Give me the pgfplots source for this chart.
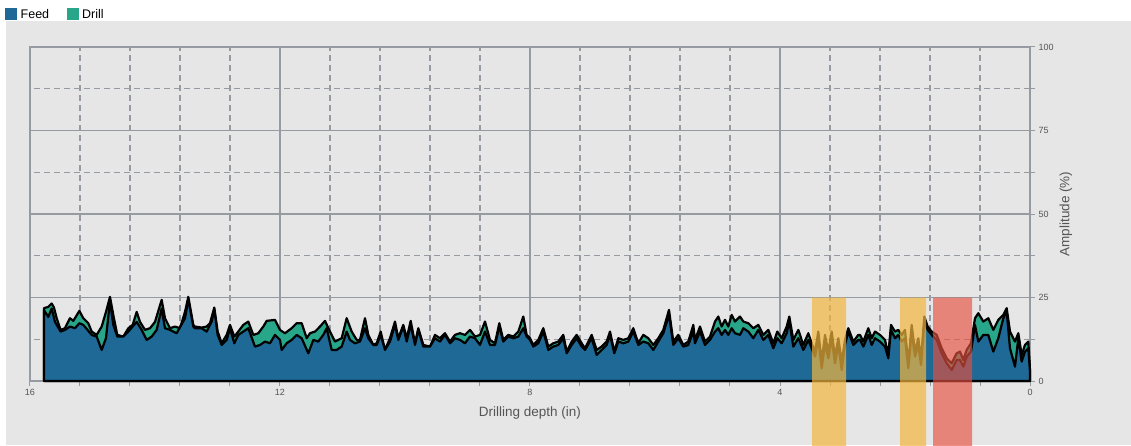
\documentclass[border=0pt]{standalone}
\usepackage{pgfplots}
\pgfplotsset{compat=1.18}
\usepackage{fontspec}
\setmainfont{Liberation Sans}
\definecolor{feed}{HTML}{1F6996}
\definecolor{drill}{HTML}{27A689}
\definecolor{panel}{HTML}{E6E6E6}
\definecolor{gridc}{HTML}{959BA1}
\definecolor{txt}{HTML}{555555}
\definecolor{bandy}{HTML}{F2B63F}
\definecolor{bandr}{HTML}{E8503F}
\begin{document}
\begin{tikzpicture}
\useasboundingbox (0pt,0pt) rectangle (1131pt,445pt);
\clip (0pt,0pt) rectangle (1131pt,445pt);
\fill[white] (0pt,0pt) rectangle (1131pt,445pt);
\fill[panel] (6pt,0pt) rectangle (1131pt,424pt);
\fill[feed] (5pt,425pt) rectangle (17pt,437pt);
\node[anchor=west, font=\fontsize{12.5}{14}\selectfont, inner sep=0pt] at (20.5pt,431pt) {Feed};
\fill[drill] (67pt,425pt) rectangle (79pt,437pt);
\node[anchor=west, font=\fontsize{12.5}{14}\selectfont, inner sep=0pt] at (82pt,431pt) {Drill};
\begin{axis}[at={(30pt,64pt)}, anchor=south west, scale only axis,
  width=1000pt, height=334pt, clip=false,
  x dir=reverse, xmin=0, xmax=16, ymin=0, ymax=100,
  xtick={0,4,8,12,16},
  minor xtick={0.8,1.6,2.4,3.2,4.8,5.6,6.4,7.2,8.8,9.6,10.4,11.2,12.8,13.6,14.4,15.2},
  ytick={0,25,50,75,100}, minor ytick={12.5,37.5,62.5,87.5},
  grid=both,
  major grid style={gridc, line width=1.3pt},
  minor grid style={gridc, line width=1.1pt, dash pattern=on 6pt off 4pt},
  axis line style={gridc, line width=1.6pt},
  tick style={gridc, line width=1pt},
  major tick length=5pt, minor tick length=5pt,
  tick align=outside,
  xtick pos=bottom, ytick pos=right, yticklabel pos=right,
  /pgf/number format/assume math mode=true,
  ticklabel style={font=\fontsize{9}{10}\selectfont, text=txt},
  xlabel={Drilling depth (in)}, ylabel={Amplitude (\%)},
  x label style={at={(axis description cs:0.5,-0.0958)}, anchor=center, font=\fontsize{13.5}{15}\selectfont, text=txt},
  y label style={at={(axis description cs:1.036,0.5)}, anchor=center, font=\fontsize{13.5}{15}\selectfont, text=txt},
]
\addplot[draw=black, line width=2.2pt, line join=round, fill=drill] table {
x y
15.776 0
15.776 21.8
15.707 22.2
15.653 23.2
15.616 22.0
15.573 18.8
15.510 15.3
15.440 15.8
15.360 18.8
15.307 18.0
15.210 21.0
15.147 18.8
15.067 17.3
15.013 14.8
14.933 13.8
14.853 16.3
14.784 20.7
14.720 25.2
14.667 19.8
14.603 13.8
14.507 13.3
14.427 15.8
14.357 16.8
14.293 20.7
14.240 17.7
14.160 15.3
14.080 15.8
14.000 17.7
13.893 24.3
13.840 18.8
13.760 15.8
13.680 16.3
13.600 15.8
13.520 20.7
13.467 25.2
13.387 16.8
13.360 16.3
13.253 16.0
13.173 16.3
13.120 17.3
13.051 22.0
12.997 14.8
12.933 11.3
12.853 13.8
12.800 16.8
12.731 13.3
12.667 14.8
12.587 16.8
12.507 17.8
12.427 13.8
12.347 14.3
12.267 16.3
12.213 18.0
12.080 18.3
12.000 15.3
11.920 14.3
11.813 15.8
11.733 17.3
11.653 17.3
11.573 12.8
11.520 14.3
11.440 14.8
11.360 16.3
11.280 18.0
11.200 14.8
11.120 11.8
11.013 12.8
10.933 18.8
10.853 14.8
10.773 12.3
10.720 12.3
10.640 18.8
10.587 13.8
10.507 10.8
10.453 11.3
10.389 14.8
10.320 9.3
10.240 12.8
10.160 17.8
10.107 12.8
10.027 16.8
9.973 12.8
9.909 18.0
9.840 11.3
9.787 15.8
9.707 10.8
9.600 10.3
9.520 13.8
9.440 12.8
9.360 14.3
9.280 11.8
9.200 13.8
9.120 14.3
9.040 13.8
8.960 15.3
8.880 13.3
8.800 13.8
8.720 17.8
8.640 12.3
8.560 11.3
8.491 17.3
8.427 12.3
8.347 13.8
8.267 13.3
8.187 14.8
8.107 19.3
8.053 13.8
8.000 12.8
7.947 10.8
7.867 12.3
7.787 15.8
7.707 10.3
7.627 11.3
7.547 11.8
7.467 13.8
7.413 8.8
7.333 11.8
7.253 13.8
7.173 11.3
7.120 9.8
7.013 13.8
6.933 9.3
6.853 10.3
6.773 11.8
6.720 14.8
6.651 8.8
6.587 12.8
6.507 12.3
6.427 12.8
6.347 15.8
6.267 11.3
6.187 13.8
6.107 12.8
6.027 10.8
5.947 12.8
5.867 15.3
5.776 21.3
5.707 11.8
5.627 13.8
5.547 10.8
5.467 11.8
5.387 16.8
5.360 12.3
5.280 16.3
5.200 11.8
5.120 13.3
5.040 17.8
4.987 19.3
4.933 16.3
4.880 18.3
4.827 16.3
4.773 19.8
4.720 17.8
4.640 19.3
4.587 17.8
4.507 17.3
4.427 15.8
4.347 16.8
4.267 13.8
4.187 15.3
4.107 11.3
4.043 14.8
3.973 12.8
3.893 16.3
3.851 19.3
3.787 12.3
3.707 15.3
3.627 10.8
3.547 14.3
3.493 11.3
3.440 8.8
3.387 14.8
3.333 5.8
3.280 13.8
3.227 8.8
3.173 14.8
3.120 7.3
3.067 12.8
3.013 5.8
2.960 12.3
2.907 15.8
2.827 11.8
2.747 13.8
2.720 13.8
2.667 11.8
2.587 15.8
2.533 12.8
2.480 14.8
2.400 13.8
2.320 12.3
2.267 7.8
2.224 16.8
2.160 14.8
2.107 15.3
2.053 13.8
2.000 15.3
1.947 5.3
1.893 16.8
1.840 8.8
1.787 12.8
1.744 6.3
1.691 19.3
1.637 16.3
1.573 14.8
1.493 13.8
1.413 9.8
1.333 6.8
1.253 5.3
1.173 8.3
1.120 8.8
1.067 6.3
1.013 9.3
0.944 11.3
0.880 18.8
0.827 20.3
0.747 17.8
0.667 18.8
0.587 15.3
0.507 18.3
0.427 19.8
0.373 21.8
0.320 14.8
0.240 11.8
0.187 14.3
0.133 7.8
0.080 10.8
0.027 11.8
0.000 3.3
} \closedcycle;
\addplot[draw=black, line width=2.2pt, line join=round, fill=feed] table {
x y
15.776 0
15.776 21.2
15.707 19.2
15.653 21.7
15.600 17.7
15.510 14.8
15.440 15.3
15.360 16.3
15.280 15.8
15.210 17.3
15.147 16.8
15.013 13.8
14.933 13.3
14.853 9.3
14.784 12.8
14.720 24.0
14.667 16.8
14.603 13.3
14.507 13.3
14.427 14.8
14.293 17.7
14.213 15.3
14.133 12.3
14.053 13.3
13.973 15.3
13.893 21.7
13.840 15.8
13.760 15.3
13.653 14.3
13.520 18.8
13.467 24.5
13.387 16.3
13.360 15.8
13.253 15.8
13.173 14.8
13.093 17.8
13.051 21.3
12.997 13.8
12.933 10.8
12.853 12.3
12.800 15.8
12.731 11.3
12.667 13.8
12.587 14.8
12.507 15.8
12.400 10.3
12.320 10.8
12.240 11.8
12.160 11.3
12.080 13.8
12.000 12.3
11.973 9.3
11.893 11.3
11.813 12.3
11.733 13.8
11.653 12.8
11.547 8.3
11.467 12.3
11.387 11.8
11.307 13.8
11.253 15.8
11.173 9.3
11.093 9.3
11.013 10.3
10.933 14.8
10.880 12.3
10.800 11.3
10.720 11.8
10.640 15.8
10.587 12.8
10.507 10.8
10.453 10.8
10.389 13.8
10.320 9.3
10.240 11.8
10.160 16.8
10.107 12.3
10.027 16.3
9.973 11.8
9.909 16.8
9.840 10.8
9.787 15.3
9.707 10.3
9.600 10.3
9.520 12.8
9.440 11.8
9.360 13.8
9.280 11.3
9.200 12.8
9.120 12.3
9.040 11.3
8.960 13.3
8.880 12.8
8.800 10.8
8.720 14.8
8.640 10.8
8.560 10.8
8.491 16.3
8.427 11.8
8.347 13.3
8.267 12.8
8.187 13.3
8.107 15.8
8.053 13.3
8.000 12.3
7.947 10.3
7.867 11.3
7.787 14.8
7.707 9.3
7.627 10.3
7.547 10.8
7.467 12.8
7.413 8.3
7.333 10.8
7.253 12.8
7.173 10.3
7.120 9.3
7.013 12.8
6.933 7.8
6.853 9.3
6.773 10.8
6.720 13.8
6.651 8.3
6.587 11.8
6.507 11.3
6.427 11.8
6.347 14.8
6.267 10.8
6.187 11.8
6.107 11.3
6.027 9.3
5.947 11.8
5.867 14.3
5.776 19.8
5.707 10.8
5.627 12.8
5.547 10.3
5.467 10.8
5.387 14.8
5.360 11.3
5.280 14.8
5.200 10.8
5.120 12.3
5.040 14.8
4.987 15.8
4.933 13.8
4.880 15.3
4.827 13.8
4.773 15.8
4.720 14.3
4.640 13.8
4.587 15.8
4.507 14.8
4.427 12.8
4.347 15.3
4.267 12.3
4.187 13.8
4.107 9.8
4.043 12.8
3.973 11.3
3.893 14.3
3.851 17.8
3.787 10.3
3.707 12.8
3.627 9.3
3.547 12.3
3.493 9.8
3.440 7.3
3.387 12.8
3.333 3.8
3.280 11.3
3.227 6.8
3.173 12.8
3.120 5.3
3.067 10.8
3.013 3.3
2.960 10.8
2.907 14.8
2.827 10.8
2.747 12.3
2.720 12.3
2.667 10.3
2.587 13.8
2.533 10.8
2.480 12.8
2.400 11.8
2.320 10.3
2.267 6.8
2.224 15.3
2.160 12.8
2.107 13.8
2.053 11.8
2.000 12.8
1.947 3.8
1.893 14.8
1.840 7.3
1.787 10.8
1.744 4.8
1.691 17.8
1.637 15.3
1.573 13.8
1.493 12.3
1.413 8.3
1.333 5.3
1.253 3.3
1.173 6.3
1.120 6.3
1.067 4.3
1.013 7.3
0.944 8.8
0.880 16.8
0.827 11.8
0.747 13.8
0.667 13.8
0.587 8.8
0.507 12.8
0.427 18.8
0.373 20.8
0.320 9.8
0.240 4.3
0.187 12.8
0.133 5.8
0.080 8.8
0.027 9.8
0.000 2.8
} \closedcycle;
\addplot[draw=none, fill=bandy, fill opacity=0.7] coordinates {(3.488,-19.5) (3.488,25) (2.944,25) (2.944,-19.5) (3.488,-19.5)};
\addplot[draw=none, fill=bandy, fill opacity=0.7] coordinates {(2.080,-19.5) (2.080,25) (1.664,25) (1.664,-19.5) (2.080,-19.5)};
\addplot[draw=none, fill=bandr, fill opacity=0.65] coordinates {(1.552,-19.5) (1.552,25) (0.928,25) (0.928,-19.5) (1.552,-19.5)};
\end{axis}
\end{tikzpicture}
\end{document}
